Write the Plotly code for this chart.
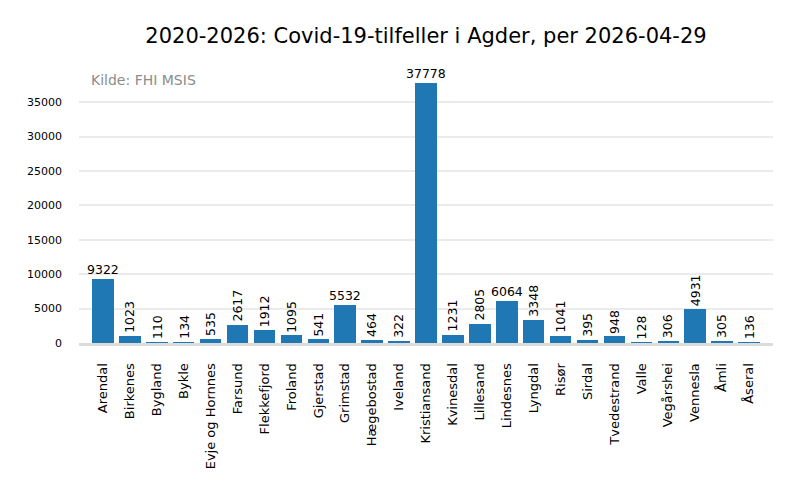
import plotly.graph_objects as go

kommuner = ["Arendal", "Birkenes", "Bygland", "Bykle", "Evje og Hornnes", "Farsund",
            "Flekkefjord", "Froland", "Gjerstad", "Grimstad", "Hægebostad", "Iveland",
            "Kristiansand", "Kvinesdal", "Lillesand", "Lindesnes", "Lyngdal", "Risør",
            "Sirdal", "Tvedestrand", "Valle", "Vegårshei", "Vennesla", "Åmli", "Åseral"]
tilfeller = [9322, 1023, 110, 134, 535, 2617, 1912, 1095, 541, 5532, 464, 322,
             37778, 1231, 2805, 6064, 3348, 1041, 395, 948, 128, 306, 4931, 305, 136]
y_ticks = [0, 5000, 10000, 15000, 20000, 25000, 30000, 35000]

title = "2020-2026: Covid-19-tilfeller i Agder, per 2026-04-29"
source = "Kilde: FHI MSIS"
FONT = "DejaVu Sans"

# page body has an 8px margin; compensate
W, H = 792, 492
L, R, T, B = 71, 27, 62, 157

fig = go.Figure()
fig.add_trace(go.Bar(x=list(range(len(kommuner))), y=tilfeller, width=0.8,
                     marker=dict(color="#1f77b4", line=dict(width=0)),
                     hoverinfo="skip"))

annotations = []
for i, v in enumerate(tilfeller):
    if v > 5000:
        annotations.append(dict(x=i, y=v, xref="x", yref="y", text=str(v), showarrow=False,
                                xanchor="center", yanchor="bottom", yshift=0,
                                font=dict(family=FONT, size=12.5, color="black")))
    else:
        annotations.append(dict(x=i, y=v, xref="x", yref="y", text=str(v), showarrow=False,
                                textangle=-90, xanchor="center", yanchor="bottom", yshift=1,
                                font=dict(family=FONT, size=12.5, color="black")))
annotations.append(dict(x=0.015, y=0.965, xref="paper", yref="paper", text=source,
                        showarrow=False, xanchor="left", yanchor="middle",
                        font=dict(family=FONT, size=14, color="#8c8c8c")))

ymax = max(tilfeller) * 1.05
fig.update_layout(
    width=W, height=H,
    margin=dict(l=L, r=R, t=T, b=B),
    paper_bgcolor="white", plot_bgcolor="white",
    font=dict(family=FONT, color="black"),
    title=dict(text=title, x=(L + (W - R)) / 2 / W, xanchor="center", y=1 - 28 / H,
               yanchor="middle", font=dict(family=FONT, size=21, color="black")),
    showlegend=False,
    bargap=0,
    annotations=annotations,
    xaxis=dict(tickmode="array", tickvals=list(range(len(kommuner))), ticktext=kommuner,
               tickangle=-90, range=[-0.89, len(kommuner) - 1 + 0.89],
               showgrid=False, zeroline=False, showline=True, linecolor="#dcdcdc",
               linewidth=3, ticks="", ticklabelstandoff=12,
               tickfont=dict(family=FONT, size=13, color="black")),
    yaxis=dict(range=[0, ymax], tickmode="array", tickvals=y_ticks,
               ticktext=[str(t) for t in y_ticks],
               showgrid=True, gridcolor="#ebebeb", gridwidth=1.5, zeroline=False,
               showline=False, ticks="", ticklabelstandoff=16,
               tickfont=dict(family=FONT, size=11, color="black")),
)

fig.write_html("out.html")
